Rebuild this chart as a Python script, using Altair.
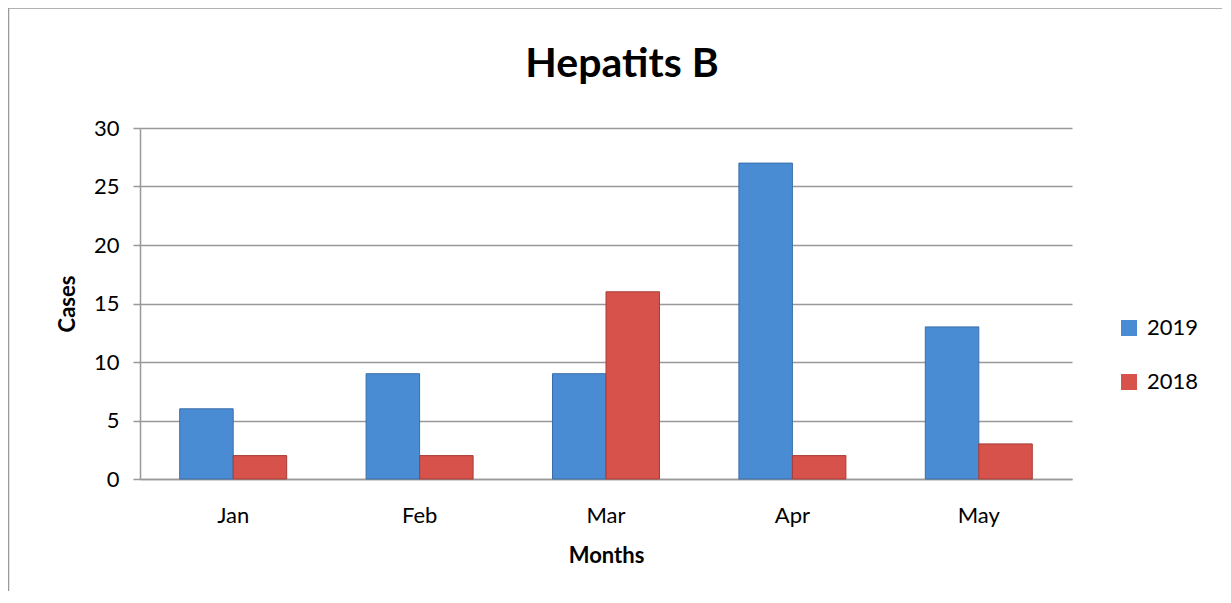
import altair as alt
import pandas as pd

title_text = ["Hepatits B"]
months = ["Jan", "Feb", "Mar", "Apr", "May"]
series = ["2019", "2018"]
cases_2019 = [6, 9, 9, 27, 13]
cases_2018 = [2, 2, 16, 2, 3]
colors = ["#4A8CD4", "#D6524A"]
strokes = ["#3A6EA8", "#A83C36"]

rows = []
for m, a, b in zip(months, cases_2019, cases_2018):
    rows.append({"Month": m, "Year": "2019", "Cases": a})
    rows.append({"Month": m, "Year": "2018", "Cases": b})
df = pd.DataFrame(rows)

FONT = "Lato"
FS = 22

bars = alt.Chart(df).mark_bar(strokeWidth=1).encode(
    x=alt.X("Month:N", sort=months,
            scale=alt.Scale(paddingInner=0.426, paddingOuter=0.213),
            axis=alt.Axis(title="Months", labelAngle=0, ticks=False,
                          labelPadding=26, titlePadding=19,
                          labelFontSize=FS, titleFontSize=FS,
                          labelFont=FONT, titleFont=FONT,
                          titleFontWeight="bold", labelColor="#000",
                          titleColor="#000", domainColor="#999",
                          domainWidth=1.5, grid=False)),
    xOffset=alt.XOffset("Year:N", sort=series, scale=alt.Scale(paddingInner=0, paddingOuter=0)),
    y=alt.Y("Cases:Q", scale=alt.Scale(domain=[0, 30], nice=False),
            axis=alt.Axis(title="Cases", values=[0, 5, 10, 15, 20, 25, 30],
                          tickSize=7, tickColor="#999", tickWidth=1.5,
                          domainColor="#999", domainWidth=1.5,
                          gridColor="#999", gridWidth=1.5,
                          labelFontSize=FS, titleFontSize=FS,
                          labelFont=FONT, titleFont=FONT,
                          titleFontWeight="bold", labelColor="#000",
                          titleColor="#000", labelPadding=14, titlePadding=14)),
    color=alt.Color("Year:N", sort=series,
                    scale=alt.Scale(domain=series, range=colors),
                    legend=alt.Legend(title=None, orient="none", legendX=978, legendY=189,
                                      symbolType="square", symbolSize=256,
                                      symbolStrokeWidth=0,
                                      labelFontSize=FS, labelFont=FONT, labelColor="#000",
                                      labelOffset=7, rowPadding=32)),
    stroke=alt.Stroke("Year:N", sort=series,
                      scale=alt.Scale(domain=series, range=strokes), legend=None),
)

frame = alt.Chart(pd.DataFrame({"a": [0]})).mark_rect(
    fill=None, stroke="#999", strokeWidth=1.5
).encode(
    x=alt.value(-131.5), y=alt.value(-120), x2=alt.value(3000), y2=alt.value(3000)
)

title = alt.Chart(pd.DataFrame({"t": title_text})).mark_text(
    font=FONT, fontSize=41, fontWeight="bold", color="#000",
    align="center", baseline="alphabetic"
).encode(text="t:N", x=alt.value(482), y=alt.value(-51))

chart = alt.layer(frame, bars, title).properties(
    width=932, height=351,
    autosize=alt.AutoSizeParams(type="none"),
    padding={"left": 132, "top": 120, "right": 150, "bottom": 112},
).configure_view(stroke=None)

chart.save("out.html", embed_options={"renderer": "svg", "actions": False})
